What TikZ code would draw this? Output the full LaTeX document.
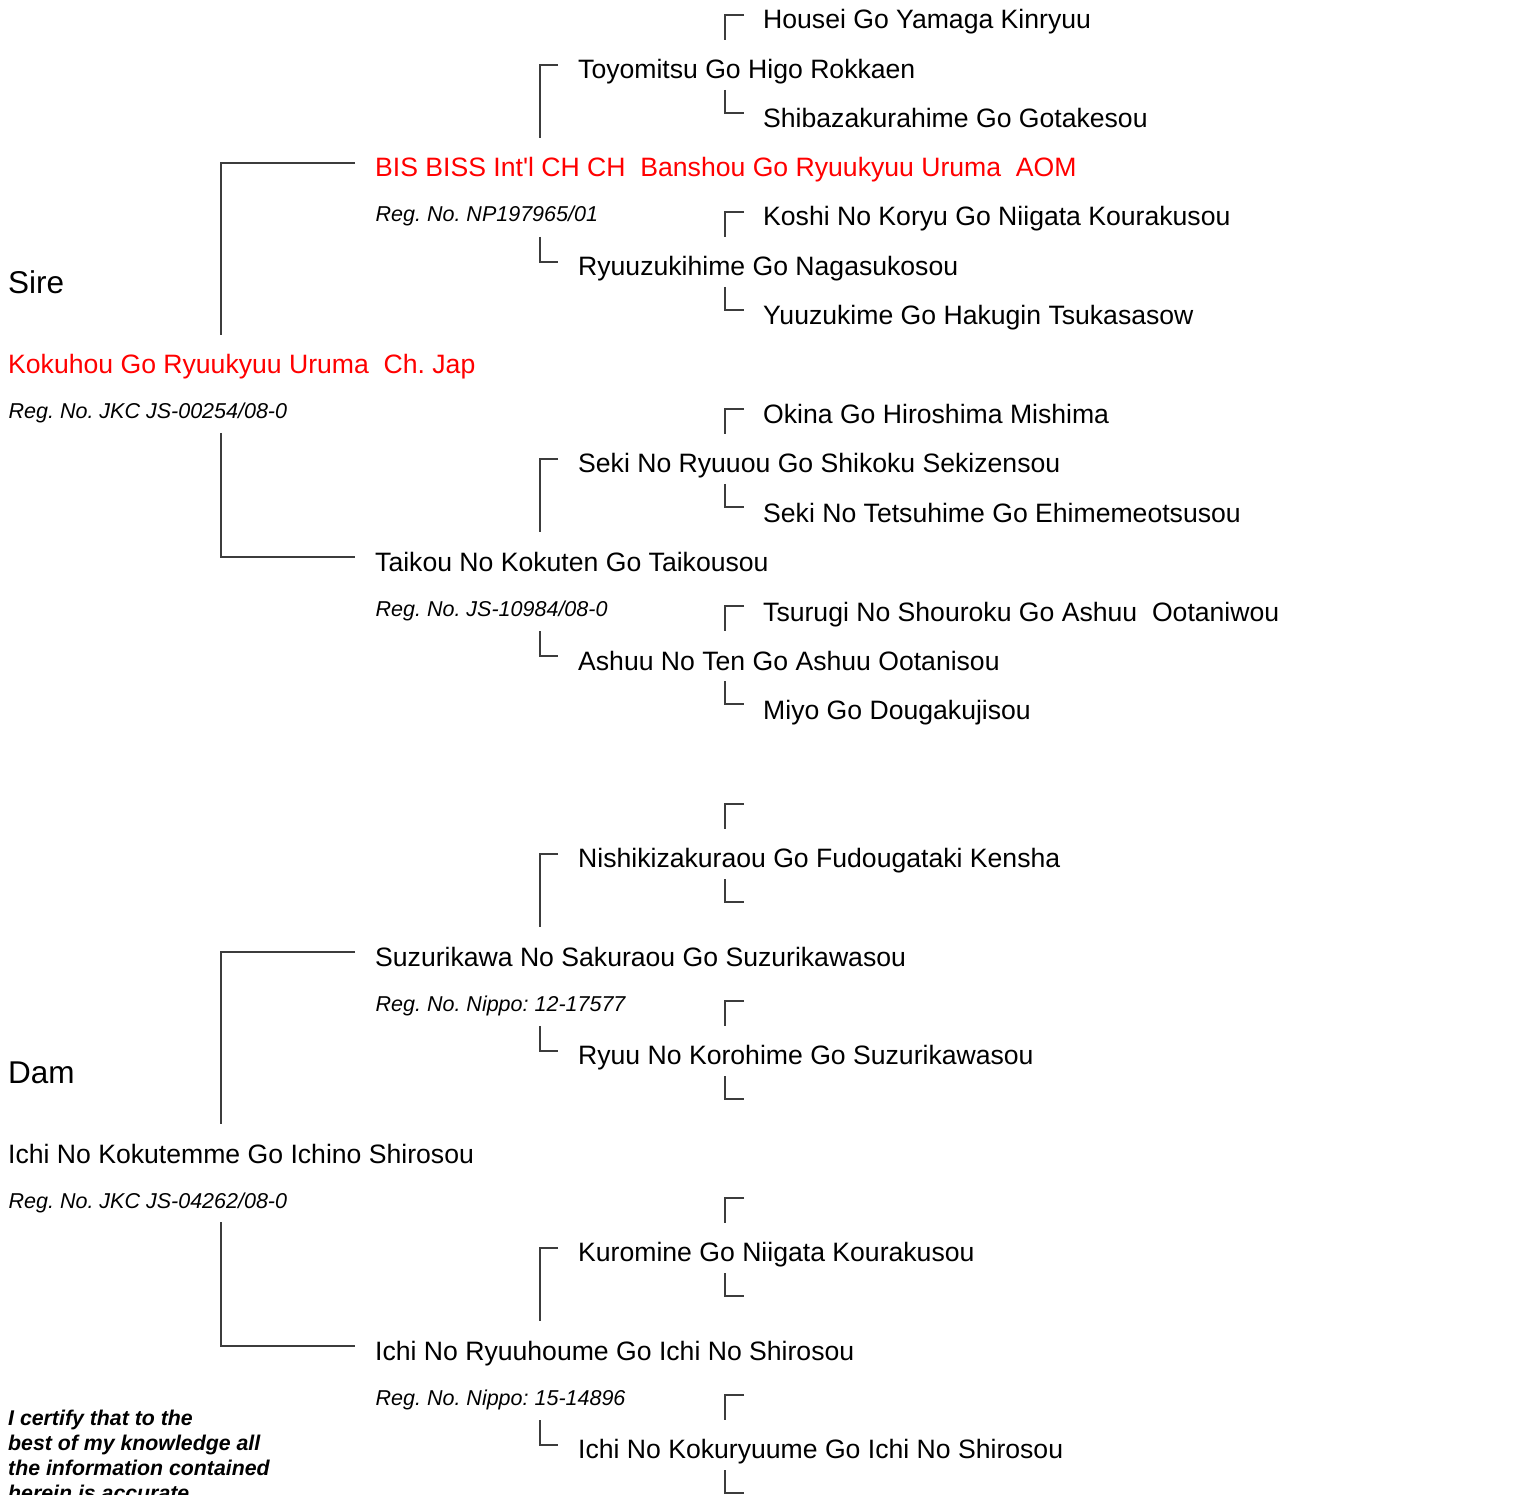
\documentclass[tikz,border=0pt]{standalone}
\usepackage{fontspec}
\setmainfont{Liberation Sans}
\definecolor{pedred}{RGB}{255,0,0}
\definecolor{pedline}{RGB}{60,60,60}
\frenchspacing
\begin{document}
\begin{tikzpicture}[x=1pt,y=-1pt,
  nm/.style={anchor=base west,inner sep=0pt,font=\fontsize{26.6}{30}\selectfont},
  rednm/.style={nm,text=pedred},
  reg/.style={anchor=base west,inner sep=0pt,font=\fontsize{21.5}{25}\selectfont\itshape},
  big/.style={anchor=base west,inner sep=0pt,font=\fontsize{31.5}{36}\selectfont},
  cert/.style={anchor=base west,inner sep=0pt,font=\fontsize{21.3}{25}\selectfont\bfseries\itshape},
  ln/.style={draw=pedline,line width=1.2pt}]
\useasboundingbox (0,0) rectangle (1535,1495);

% ---------- brackets ----------
\foreach \a in {365,1154}{
  \draw[ln] (355,\a-202) -- (221,\a-202) -- (221,\a-30);
  \draw[ln] (221,\a+68) -- (221,\a+192) -- (355,\a+192);
}
\foreach \b in {168,562,957,1351}{
  \draw[ln] (558,\b-103) -- (540,\b-103) -- (540,\b-30);
  \draw[ln] (540,\b+69) -- (540,\b+94) -- (558,\b+94);
}
\foreach \c in {70,267,464,661,859,1056,1253,1450}{
  \draw[ln] (744,\c-55) -- (725,\c-55) -- (725,\c-30);
  \draw[ln] (725,\c+20) -- (725,\c+43) -- (744,\c+43);
}

% ---------- sire half ----------
\node[big] (sire) at (8,294) {Sire};
\node[rednm] (s0) at (8,374) {Kokuhou Go Ryuukyuu Uruma\ \ Ch. Jap};
\node[reg] (s0r) at (8.5,419) {Reg. No. JKC JS-00254/08-0};

\node[rednm] (s1) at (375,177) {BIS BISS Int\textquotesingle l CH CH\ \ Banshou Go Ryuukyuu Uruma\ \ AOM};
\node[reg] (s1r) at (375.5,222) {Reg. No. NP197965/01};
\node[nm] (s2) at (375,571) {Taikou No Kokuten Go Taikousou};
\node[reg] (s2r) at (375.5,616) {Reg. No. JS-10984/08-0};

\node[nm] (s11) at (578,79) {Toyomitsu Go Higo Rokkaen};
\node[nm] (s12) at (578,276) {Ryuuzukihime Go Nagasukosou};
\node[nm] (s21) at (578,473) {Seki No Ryuuou Go Shikoku Sekizensou};
\node[nm] (s22) at (578,670) {Ashuu No Ten Go Ashuu Ootanisou};

\node[nm] (s111) at (763,29) {Housei Go Yamaga Kinryuu};
\node[nm] (s112) at (763,128) {Shibazakurahime Go Gotakesou};
\node[nm] (s121) at (763,226) {Koshi No Koryu Go Niigata Kourakusou};
\node[nm] (s122) at (763,325) {Yuuzukime Go Hakugin Tsukasasow};
\node[nm] (s211) at (763,424) {Okina Go Hiroshima Mishima};
\node[nm] (s212) at (763,522) {Seki No Tetsuhime Go Ehimemeotsusou};
\node[nm] (s221) at (763,621) {Tsurugi No Shouroku Go Ashuu\ \ Ootaniwou};
\node[nm] (s222) at (763,719) {Miyo Go Dougakujisou};

% ---------- dam half ----------
\node[big] (dam) at (8,1083) {Dam};
\node[nm] (d0) at (8,1163) {Ichi No Kokutemme Go Ichino Shirosou};
\node[reg] (d0r) at (8.5,1208) {Reg. No. JKC JS-04262/08-0};

\node[nm] (d1) at (375,966) {Suzurikawa No Sakuraou Go Suzurikawasou};
\node[reg] (d1r) at (375.5,1011) {Reg. No. Nippo: 12-17577};
\node[nm] (d2) at (375,1360) {Ichi No Ryuuhoume Go Ichi No Shirosou};
\node[reg] (d2r) at (375.5,1405) {Reg. No. Nippo: 15-14896};

\node[nm] (d11) at (578,867) {Nishikizakuraou Go Fudougataki Kensha};
\node[nm] (d12) at (578,1064) {Ryuu No Korohime Go Suzurikawasou};
\node[nm] (d21) at (578,1261) {Kuromine Go Niigata Kourakusou};
\node[nm] (d22) at (578,1458) {Ichi No Kokuryuume Go Ichi No Shirosou};

% ---------- certification ----------
\node[cert] (c1) at (8,1425) {I certify that to the};
\node[cert] (c2) at (8,1450) {best of my knowledge all};
\node[cert] (c3) at (8,1475) {the information contained};
\node[cert] (c4) at (8,1500) {herein is accurate};
\end{tikzpicture}
\end{document}
